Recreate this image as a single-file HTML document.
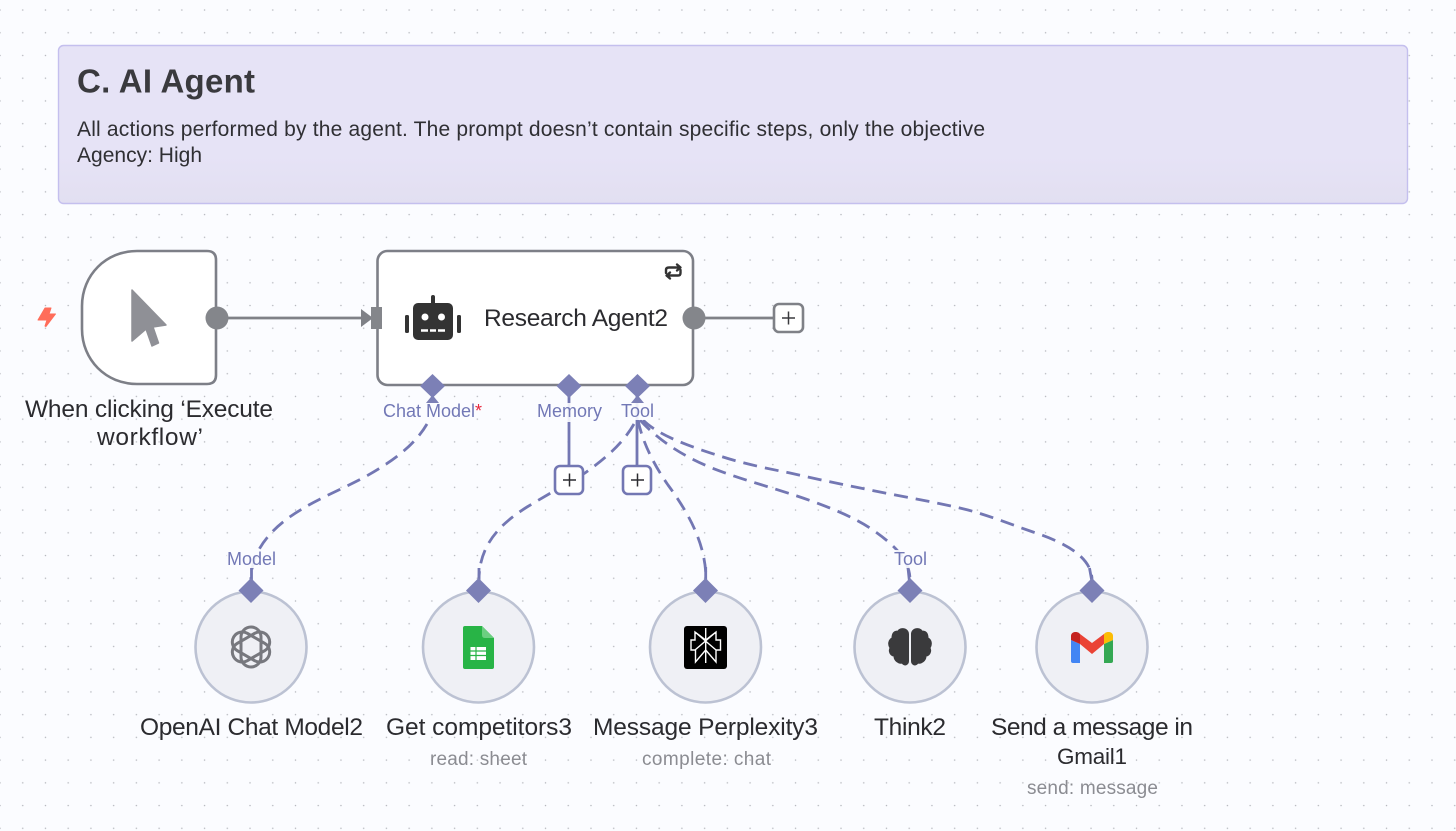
<!DOCTYPE html>
<html><head><meta charset="utf-8"><style>
html,body{margin:0;padding:0;background:#fbfcff}
svg{display:block}
text{font-family:"Liberation Sans",sans-serif}
.n{font-size:24.5px;fill:#2b2b2f}
.s{font-size:19px;fill:#8b8c92}
.h{font-size:18px;fill:#7278b6}
.dash{fill:none;stroke:#7377b3;stroke-width:2.8;stroke-dasharray:14 8}
.box{fill:#fff;stroke:#7d7f87;stroke-width:2.6}
.c{fill:#eff0f5;stroke:#bcc2d3;stroke-width:2.6}
</style></head><body>
<svg width="1456" height="831" viewBox="0 0 1456 831" xmlns="http://www.w3.org/2000/svg">
<defs>
<pattern id="d" x="-1" y="9" width="22.73" height="22.73" patternUnits="userSpaceOnUse"><circle cx="1" cy="1" r="0.75" fill="#b4b6bc"/></pattern>
<linearGradient id="g" x1="0" y1="0" x2="0" y2="1"><stop offset="0.7" stop-color="#e6e3f6"/><stop offset="1" stop-color="#e2dff1"/></linearGradient>
</defs>
<rect width="1456" height="831" fill="#fbfcff"/>
<rect width="1456" height="831" fill="url(#d)"/>

<rect x="58.5" y="45.5" width="1349" height="158" rx="5" fill="url(#g)" stroke="#c4bfee" stroke-width="1.4"/>
<text x="77" y="92.5" font-size="33" font-weight="700" fill="#3a3a3e" textLength="178" lengthAdjust="spacing">C. AI Agent</text>
<text x="77" y="136" font-size="21" fill="#2f2f33" textLength="908" lengthAdjust="spacing">All actions performed by the agent. The prompt doesn’t contain specific steps, only the objective</text>
<text x="77" y="162" font-size="21" fill="#2f2f33" textLength="125" lengthAdjust="spacing">Agency: High</text>

<!-- connectors -->
<path class="dash" d="M427 424C413 448 388 464 363 478C340 490 320 498 302 509C280 522 251 545 251 580"/>
<path class="dash" d="M634 424C622 445 603 460 585 473C565 485 545 496 527 507C500 524 479 545 479 580"/>
<path class="dash" d="M638 420C642 440 652 462 668 485C690 515 706 545 706 580"/>
<path class="dash" d="M640 420C660 442 685 457 712 468C740 479 770 487 797 496C830 507 855 518 870 528C895 545 910 560 910 580"/>
<path class="dash" d="M643 420C660 437 695 448 723 457C745 464 770 469 790 473C820 480 850 486 880 492C910 498 940 503 968 510C990 516 1010 524 1033 532C1060 541 1092 555 1092 580"/>
<path d="M569 395V468M637 395V468" fill="none" stroke="#7377b3" stroke-width="2.8"/>
<path d="M217 318H364M704 318H775" fill="none" stroke="#7f8187" stroke-width="2.8"/>

<!-- trigger -->
<path class="box" d="M137 251H207Q216 251 216 260V375Q216 384 207 384H137C106 384 82 360 82 329V306C82 275 106 251 137 251Z"/>
<path d="M132 290L166 325L153 327L158.500 343L152 346L146 329L132 341Z" fill="#8f9096" stroke="#8f9096" stroke-width="1.500" stroke-linejoin="round"/>
<path d="M45 308H51L49 314H55.500L46 326.500L45 326L47 320H38Z" fill="#ff6d5a" stroke="#ff6d5a" stroke-width="1" stroke-linejoin="round"/>
<circle cx="217" cy="318" r="11.500" fill="#84868b"/>
<path d="M361 309L373 318L361 327Z" fill="#7f8187"/>
<text class="n" x="25" y="417" textLength="248" lengthAdjust="spacing">When clicking ‘Execute</text>
<text class="n" x="97" y="445" textLength="106" lengthAdjust="spacing">workflow’</text>

<!-- agent -->
<rect class="box" x="377.500" y="251" width="315.500" height="134" rx="10"/>
<rect x="371" y="307" width="11" height="22" fill="#84868b"/>
<circle cx="694" cy="318" r="11.500" fill="#84868b"/>
<text class="n" x="484" y="326" textLength="184" lengthAdjust="spacing">Research Agent2</text>
<rect x="413" y="303" width="40" height="37" rx="5" fill="#333"/>
<rect x="431" y="295" width="4" height="10" rx="2" fill="#333"/>
<rect x="405" y="315" width="4" height="18" rx="1.500" fill="#333"/>
<rect x="457" y="315" width="4" height="18" rx="1.500" fill="#333"/>
<circle cx="425" cy="317" r="3.500" fill="#fff"/><circle cx="441.500" cy="317" r="3.500" fill="#fff"/>
<path d="M421 330.500h7M430 330.500h6M438 330.500h7" stroke="#fff" stroke-width="2.500"/>
<g fill="none" stroke="#333" stroke-width="2.400" stroke-linejoin="round" stroke-linecap="round">
<path d="M666 273V270Q666 267.500 669 267.500H680M677 264.500L680.500 267.500L677 270.500"/>
<path d="M680.500 270V273Q680.500 275.500 678 275.500H667M670 272.500L666.500 275.500L670 278.500"/>
</g>

<!-- plus boxes -->
<rect x="774" y="304" width="29" height="28" rx="5" fill="#fff" stroke="#7f8187" stroke-width="2.600"/>
<path d="M782 318H795M788.500 311.500V324.500" stroke="#3a3a3e" stroke-width="1.500"/>
<rect x="555" y="466" width="28" height="28" rx="5" fill="#fff" stroke="#7377b3" stroke-width="2.600"/>
<path d="M563 480H576M569.500 473.500V486.500" stroke="#2c2c30" stroke-width="1.500"/>
<rect x="623" y="466" width="28" height="28" rx="5" fill="#fff" stroke="#7377b3" stroke-width="2.600"/>
<path d="M631 480H644M637.500 473.500V486.500" stroke="#2c2c30" stroke-width="1.500"/>

<!-- agent handles -->
<g fill="#7c80b6">
<path d="M432.500 374L445 386L432.500 398L420 386Z"/>
<path d="M569 374L581.500 386L569 398L556.500 386Z"/>
<path d="M637.500 374L650 386L637.500 398L625 386Z"/>
<path d="M426 403L432.500 395L439 403Z"/>
<path d="M631 403L637.500 395L644 403Z"/>
</g>
<g fill="#fbfcff" fill-opacity=".9">
<rect x="383" y="403" width="92" height="20"/><rect x="537" y="403" width="65" height="19"/><rect x="621" y="403" width="33" height="17"/>
<rect x="227" y="550" width="49" height="18"/><rect x="894" y="550" width="33" height="18"/>
</g>
<text class="h" x="383" y="417" textLength="92" lengthAdjust="spacing">Chat Model</text>
<text x="475" y="417" font-size="18" fill="#e8263d">*</text>
<text class="h" x="537" y="417" textLength="65" lengthAdjust="spacing">Memory</text>
<text class="h" x="621" y="417" textLength="33" lengthAdjust="spacing">Tool</text>
<text class="h" x="227" y="565" textLength="49" lengthAdjust="spacing">Model</text>
<text class="h" x="894" y="565" textLength="33" lengthAdjust="spacing">Tool</text>
<path d="M251.500 568V582M479 568V582M705.700 567V582M908 568L909.500 582M1089.500 568L1092 582" fill="none" stroke="#7377b3" stroke-width="2.800"/>

<!-- tool nodes -->
<circle class="c" cx="251" cy="647" r="55.500"/>
<circle class="c" cx="478.500" cy="647" r="55.500"/>
<circle class="c" cx="705.500" cy="647" r="55.500"/>
<circle class="c" cx="910" cy="647" r="55.500"/>
<circle class="c" cx="1092" cy="647" r="55.500"/>
<g fill="#7c80b6">
<path d="M251 578L263.500 590.500L251 603L238.500 590.500Z"/>
<path d="M478.500 578L491 590.500L478.500 603L466 590.500Z"/>
<path d="M705.500 578L718 590.500L705.500 603L693 590.500Z"/>
<path d="M910 578L922.500 590.500L910 603L897.500 590.500Z"/>
<path d="M1092 578L1104.500 590.500L1092 603L1079.500 590.500Z"/>
</g>

<!-- openai -->
<g fill="none" stroke="#77787e" stroke-width="3">
<rect x="241" y="627" width="20" height="40" rx="10"/>
<rect x="241" y="627" width="20" height="40" rx="10" transform="rotate(60 251 647)"/>
<rect x="241" y="627" width="20" height="40" rx="10" transform="rotate(120 251 647)"/>
</g>
<!-- sheets -->
<path d="M465 626H482L494 638V667Q494 669 492 669H465Q463 669 463 667V628Q463 626 465 626Z" fill="#28b446"/>
<path d="M482 626L494 638H485Q482 638 482 635Z" fill="#6ccf81"/>
<rect x="470.500" y="647" width="15.500" height="13" fill="#fff"/>
<path d="M470 651H486M470 655.500H486M476 647V660" stroke="#28b446" stroke-width="1.200"/>
<!-- perplexity -->
<rect x="684" y="626" width="43" height="43" rx="3" fill="#000"/>
<path d="M705.700 628V663M695 632L716 650M716 632L695 650M695 632V640H691V650H695.500V662L705.700 650L716 662V650H720.500V640H716V632L705.700 640Z" fill="none" stroke="#fff" stroke-width="1.400"/>
<!-- brain -->
<g fill="#3a3a3c" stroke="#3a3a3c" stroke-width="1" stroke-linejoin="round">
<path d="M908.500 634C908.500 628 900 627 898 631C893 631 892 635 892 638C888 640 888 645 890 648C888 652 891 656 894 656C894 661 899 664 902 663C905 667 908.500 664 908.500 661Z"/>
<path d="M911.500 634C911.500 628 920 627 922 631C927 631 928 635 928 638C932 640 932 645 930 648C932 652 929 656 926 656C926 661 921 664 918 663C915 667 911.500 664 911.500 661Z"/>
</g>
<!-- gmail -->
<path d="M1071 640V661Q1071 663 1073 663H1080V644Z" fill="#4285f4"/>
<path d="M1113 640V661Q1113 663 1111 663H1104V644Z" fill="#34a853"/>
<path d="M1080 644L1092 654L1104 644V634L1092 643L1080 634Z" fill="#ea4335"/>
<path d="M1071 640V636C1071 632 1076 631 1079 633L1080 634V644Z" fill="#c5221f"/>
<path d="M1113 640V636C1113 632 1108 631 1105 633L1104 634V644Z" fill="#fbbc04"/>

<!-- node labels -->
<text class="n" x="140" y="735" textLength="223" lengthAdjust="spacing">OpenAI Chat Model2</text>
<text class="n" x="386" y="735" textLength="186" lengthAdjust="spacing">Get competitors3</text>
<text class="n" x="593" y="735" textLength="225" lengthAdjust="spacing">Message Perplexity3</text>
<text class="n" x="874" y="735" textLength="72" lengthAdjust="spacing">Think2</text>
<text class="n" x="991" y="735" textLength="202" lengthAdjust="spacing">Send a message in</text>
<text x="1057" y="764" font-size="22.500" fill="#2b2b2f" textLength="70" lengthAdjust="spacing">Gmail1</text>
<text class="s" x="430" y="765" textLength="97" lengthAdjust="spacing">read: sheet</text>
<text class="s" x="642" y="765" textLength="129" lengthAdjust="spacing">complete: chat</text>
<text class="s" x="1027" y="794" textLength="131" lengthAdjust="spacing">send: message</text>
</svg>
</body></html>
